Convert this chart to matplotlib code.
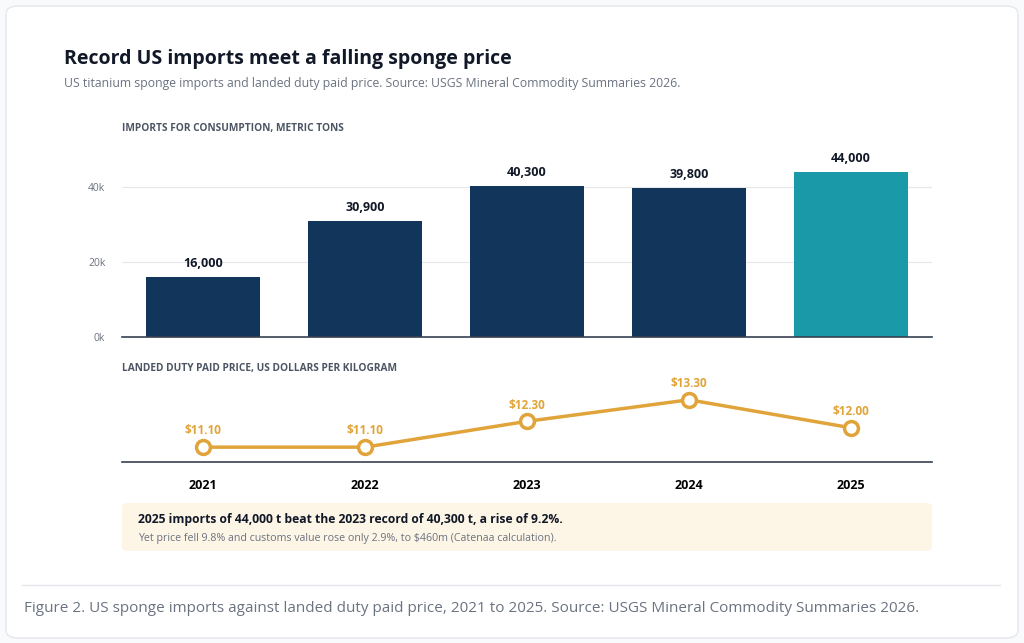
import matplotlib.pyplot as plt
from matplotlib.patches import FancyBboxPatch

years = ['2021', '2022', '2023', '2024', '2025']
imports_t = [16000, 30900, 40300, 39800, 44000]
import_labels = ['16,000', '30,900', '40,300', '39,800', '44,000']
price = [11.10, 11.10, 12.30, 13.30, 12.00]
price_labels = ['$11.10', '$11.10', '$12.30', '$13.30', '$12.00']

W, H = 1024, 643
navy = '#12355b'
teal = '#1a9aa8'
gold = '#e0a43a'
grey = '#6b7280'

plt.rcParams['font.family'] = ['Open Sans', 'DejaVu Sans']
fig = plt.figure(figsize=(W / 100, H / 100), dpi=100)

def fx(x): return x / W
def fy(y): return 1 - y / H

# card
card = FancyBboxPatch((fx(6), fy(638)), fx(1012), 632 / H, boxstyle='round,pad=0,rounding_size=0.012',
                      transform=fig.transFigure, fc='white', ec='#e5e7eb', lw=1, zorder=-10)
fig.patches.append(card)

fig.text(fx(64), fy(59), 'Record US imports meet a falling sponge price', fontsize=14,
         fontweight='bold', color='#111827', va='center')
fig.text(fx(64), fy(84), 'US titanium sponge imports and landed duty paid price. Source: USGS Mineral Commodity Summaries 2026.',
         fontsize=8.8, color=grey, va='center')
fig.text(fx(122), fy(129), 'IMPORTS FOR CONSUMPTION, METRIC TONS', fontsize=7.3, fontweight='bold',
         color='#4b5563', va='center')

# bars
ax = fig.add_axes([fx(122), fy(337), fx(810), 187 / H])
colors = [navy] * 4 + [teal]
x = range(len(years))
ax.bar(x, imports_t, width=0.7, color=colors, zorder=3)
for i, (v, l) in enumerate(zip(imports_t, import_labels)):
    ax.text(i, v + 1900, l, ha='center', va='bottom', fontsize=9, fontweight='bold', color='#111827')
ax.set_xlim(-0.5, 4.5)
ax.set_ylim(0, 49867)
ax.set_yticks([0, 20000, 40000])
ax.set_yticklabels(['0k', '20k', '40k'])
ax.tick_params(axis='y', length=0, labelsize=7.5, labelcolor=grey, pad=12)
ax.set_xticks([])
ax.grid(axis='y', color='#e5e7eb', lw=0.8, zorder=0)
for s in ['top', 'right', 'left']:
    ax.spines[s].set_visible(False)
ax.spines['bottom'].set_color('#374151')
ax.spines['bottom'].set_linewidth(1.2)
ax.spines['bottom'].set_zorder(4)
ax.patch.set_alpha(0)

fig.text(fx(122), fy(368), 'LANDED DUTY PAID PRICE, US DOLLARS PER KILOGRAM', fontsize=7.3,
         fontweight='bold', color='#4b5563', va='center')

# price line
ax2 = fig.add_axes([fx(122), fy(462), fx(810), 82 / H])
ax2.plot(x, price, color=gold, lw=2.5, marker='o', ms=10, mfc='white', mec=gold, mew=2.5, zorder=3,
         clip_on=False)
for i, (v, l) in enumerate(zip(price, price_labels)):
    ax2.text(i, v + 0.45, l, ha='center', va='bottom', fontsize=8.5, fontweight='bold', color=gold)
ax2.set_xlim(-0.5, 4.5)
ax2.set_ylim(10.41, 14.22)
ax2.set_yticks([])
ax2.set_xticks(list(x))
ax2.set_xticklabels(years)
ax2.tick_params(axis='x', length=0, labelsize=9, pad=12)
for lab in ax2.get_xticklabels():
    lab.set_fontweight('bold')
for s in ['top', 'right', 'left']:
    ax2.spines[s].set_visible(False)
ax2.spines['bottom'].set_color('#374151')
ax2.spines['bottom'].set_linewidth(1.2)
ax2.patch.set_alpha(0)

# note box
box = FancyBboxPatch((fx(122), fy(551)), fx(810), 48 / H, boxstyle='round,pad=0,rounding_size=0.006',
                     transform=fig.transFigure, fc='#fdf5e6', ec='none', zorder=-5)
fig.patches.append(box)
fig.text(fx(138), fy(520), '2025 imports of 44,000 t beat the 2023 record of 40,300 t, a rise of 9.2%.',
         fontsize=8.7, fontweight='bold', color='#111827', va='center')
fig.text(fx(138), fy(539), 'Yet price fell 9.8% and customs value rose only 2.9%, to $460m (Catenaa calculation).',
         fontsize=7.7, color=grey, va='center')

fig.add_artist(plt.Line2D([fx(22), fx(1000)], [fy(585), fy(585)], color='#e5e7eb', lw=1))
fig.text(fx(24), fy(609), 'Figure 2. US sponge imports against landed duty paid price, 2021 to 2025. Source: USGS Mineral Commodity Summaries 2026.',
         fontsize=11, color=grey, va='center')

fig.savefig('out.png', dpi=100, facecolor='#f9fafb')
